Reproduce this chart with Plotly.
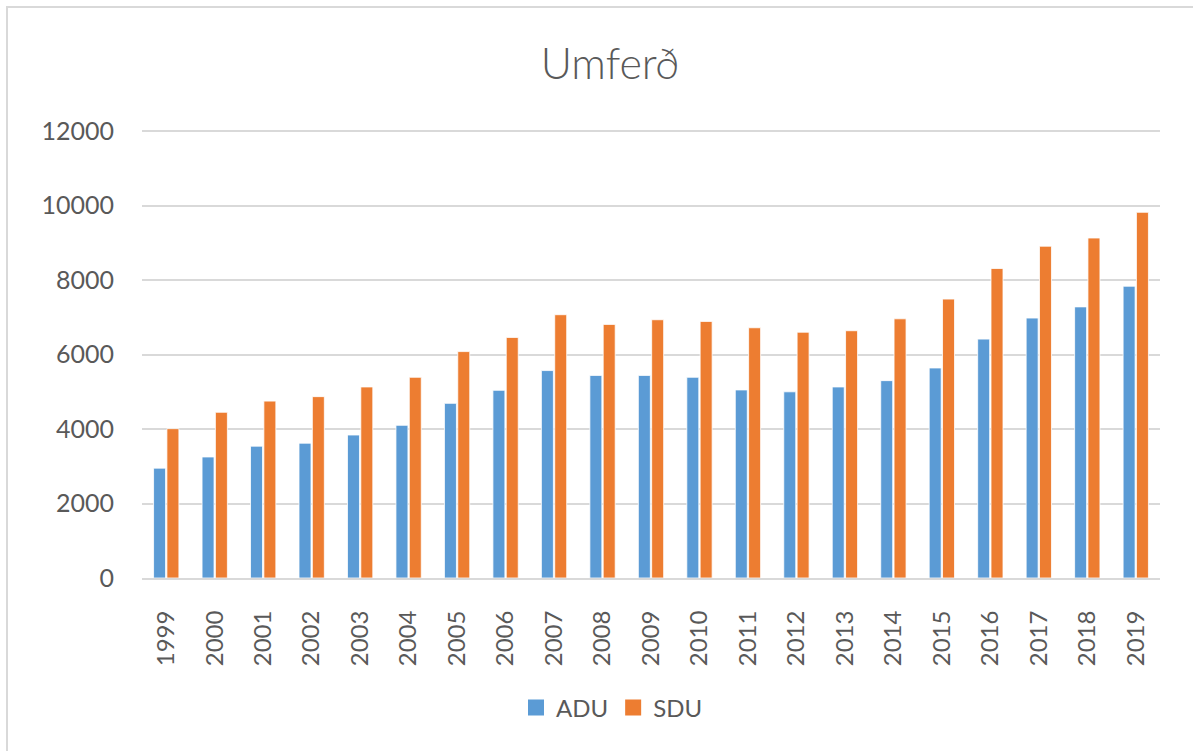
import plotly.graph_objects as go

years = [str(y) for y in range(1999, 2020)]
adu = [2950, 3250, 3540, 3620, 3840, 4100, 4690, 5040, 5570, 5440, 5440, 5390,
       5050, 5000, 5130, 5300, 5640, 6415, 6980, 7280, 7835]
sdu = [4010, 4450, 4750, 4870, 5130, 5390, 6080, 6460, 7070, 6810, 6935, 6890,
       6720, 6600, 6640, 6960, 7490, 8310, 8910, 9130, 9820]
y_ticks = [0, 2000, 4000, 6000, 8000, 10000, 12000]

TXT = "#595959"
FONT = "Lato"
C_ADU, C_SDU = "#5B9BD5", "#ED7D31"

fig = go.Figure()
fig.add_trace(go.Bar(x=years, y=adu, name="ADU", showlegend=False,
                     marker=dict(color=C_ADU, line=dict(color="white", width=0.8))))
fig.add_trace(go.Bar(x=years, y=sdu, name="SDU", showlegend=False,
                     marker=dict(color=C_SDU, line=dict(color="white", width=0.8))))
# legend proxies with larger square symbols
for nm, col in (("ADU", C_ADU), ("SDU", C_SDU)):
    fig.add_trace(go.Scatter(x=[None], y=[None], mode="markers", name=nm,
                             marker=dict(symbol="square", size=16, color=col)))

W, H = 1193, 751
L, R, T, B = 142, 33, 130, 173
pw, ph = W - L - R, H - T - B

fig.update_layout(
    width=W, height=H,
    margin=dict(l=L, r=R, t=T, b=B, pad=0, autoexpand=False),
    paper_bgcolor="white", plot_bgcolor="white",
    barmode="group", bargap=0.45, bargroupgap=0.1,
    font=dict(family=FONT, color=TXT, size=24),
    title=dict(text="Umferð", x=(610 - L) / pw, xref="paper", xanchor="center",
               y=1 - 64 / H, yanchor="middle",
               font=dict(family=FONT, size=43, color=TXT, weight=300)),
    legend=dict(orientation="h", x=(612 - L) / pw, xanchor="center",
                y=(H - B - 708) / ph, yanchor="middle",
                font=dict(family=FONT, size=24, color=TXT),
                itemwidth=30, traceorder="normal", tracegroupgap=0),
    showlegend=True,
)
fig.update_yaxes(range=[0, 12030], tickvals=y_ticks, ticktext=[str(v) for v in y_ticks],
                 showgrid=True, gridcolor="#D9D9D9", gridwidth=1.6,
                 zeroline=False, showline=False, ticks="",
                 tickfont=dict(family=FONT, size=25, color=TXT),
                 ticklabelstandoff=27, fixedrange=True)
fig.update_xaxes(showline=True, linecolor="#D9D9D9", linewidth=2, ticks="",
                 tickangle=-90, tickfont=dict(family=FONT, size=24, color=TXT),
                 ticklabelstandoff=21, showgrid=False)

# chart-area border (light grey frame, continuing past the right/bottom edges)
fig.add_shape(type="rect", xref="paper", yref="paper",
              x0=(7 - L) / pw, x1=(W + 20 - L) / pw,
              y0=(H - B - (H + 20)) / ph, y1=(H - B - 7) / ph,
              line=dict(color="#D9D9D9", width=2), fillcolor="rgba(0,0,0,0)", layer="below")

fig.write_html("out.html", config={"displayModeBar": False},
               post_script="document.body.style.margin='0';")
